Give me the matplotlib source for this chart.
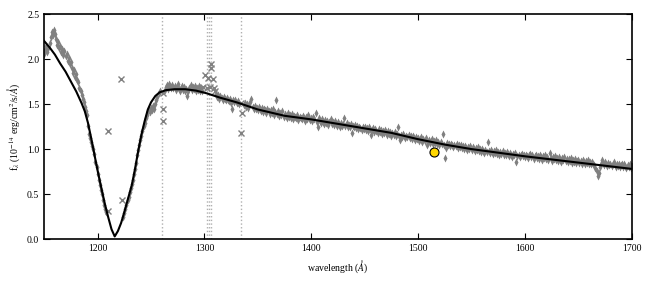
import numpy as np
import matplotlib
matplotlib.use("Agg")
import matplotlib.pyplot as plt

plt.rcParams['font.family'] = ['Liberation Serif', 'DejaVu Serif']
plt.rcParams['mathtext.fontset'] = 'stix'

# observed spectrum, 1 A sampling from 1150 to 1700 (nan = masked / no data)
wave = np.arange(1150, 1701)
flux = [
    2.06, 2.10, 2.14, 2.08, 2.12, 2.18, 2.24, 2.30, 2.27, 2.32,   # 1150
    2.28, 2.22, 2.16, 2.19, 2.12, 2.15, 2.08, 2.11, 2.05, 2.09,   # 1160
    2.03, 2.06, 1.98, 2.01, 1.94, 1.97, 1.90, 1.85, 1.88, 1.80,   # 1170
    1.83, 1.77, 1.74, 1.68, 1.64, 1.60, 1.56, 1.52, 1.47, 1.42,   # 1180
    1.38, 1.26, 1.17, 1.12, 1.08, 1.03, 1.00, 0.95, 0.86, 0.80,   # 1190
    0.72, 0.66, 0.60, 0.55, 0.50, 0.43, 0.38, 0.33, 0.30, np.nan,  # 1200
    np.nan, np.nan, np.nan, np.nan, np.nan, np.nan, np.nan, np.nan, np.nan, np.nan,  # 1210
    np.nan, np.nan, np.nan, np.nan, 0.25, 0.29, 0.33, 0.38, 0.43, 0.47,  # 1220
    0.52, 0.57, 0.61, 0.66, 0.72, 0.78, 0.85, 0.93, 0.99, 1.05,   # 1230
    1.10, 1.14, 1.20, 1.26, 1.29, 1.35, 1.38, 1.42, 1.45, 1.41,   # 1240
    1.46, 1.43, 1.48, 1.44, 1.50, 1.55, 1.58, 1.62, 1.64, np.nan,  # 1250
    np.nan, np.nan, np.nan, 1.66, 1.69, 1.71, 1.67, 1.72, 1.70, 1.68,  # 1260
    1.71, 1.68, 1.70, 1.66, 1.69, 1.72, 1.67, 1.65, 1.68, 1.70,   # 1270
    1.66, 1.69, 1.64, 1.67, 1.59, 1.65, 1.68, 1.71, 1.66, 1.69,   # 1280
    1.67, 1.70, 1.65, 1.68, 1.66, 1.70, 1.64, 1.67, 1.65, np.nan,  # 1290
    np.nan, np.nan, np.nan, np.nan, np.nan, np.nan, np.nan, np.nan, np.nan, np.nan,  # 1300
    np.nan, 1.61, 1.58, 1.60, 1.56, 1.59, 1.57, 1.55, 1.58, 1.56,  # 1310
    1.54, 1.57, 1.55, 1.53, 1.56, 1.51, 1.45, 1.54, 1.52, 1.55,   # 1320
    1.51, 1.53, 1.50, np.nan, np.nan, np.nan, np.nan, 1.49, 1.51, 1.47,  # 1330
    1.50, 1.46, 1.49, 1.52, 1.56, 1.47, 1.45, 1.48, 1.44, 1.46,   # 1340
    1.43, 1.47, 1.44, 1.42, 1.46, 1.41, 1.45, 1.43, 1.40, 1.44,   # 1350
    1.42, 1.39, 1.43, 1.40, 1.44, 1.38, 1.41, 1.54, 1.39, 1.42,   # 1360
    1.37, 1.40, 1.38, 1.42, 1.36, 1.39, 1.37, 1.34, 1.40, 1.36,   # 1370
    1.38, 1.35, 1.39, 1.33, 1.37, 1.36, 1.34, 1.38, 1.32, 1.36,   # 1380
    1.35, 1.33, 1.37, 1.34, 1.31, 1.36, 1.33, 1.38, 1.35, 1.32,   # 1390
    1.34, 1.31, 1.36, 1.33, 1.40, 1.30, 1.25, 1.34, 1.31, 1.29,   # 1400
    1.33, 1.30, 1.28, 1.32, 1.29, 1.31, 1.27, 1.30, 1.33, 1.28,   # 1410
    1.30, 1.27, 1.31, 1.28, 1.26, 1.30, 1.27, 1.25, 1.29, 1.26,   # 1420
    1.28, 1.34, 1.26, 1.29, 1.25, 1.27, 1.24, 1.28, 1.18, 1.26,   # 1430
    1.24, 1.27, 1.23, 1.26, 1.22, 1.25, 1.23, 1.21, 1.25, 1.22,   # 1440
    1.24, 1.21, 1.23, 1.20, 1.24, 1.22, 1.16, 1.21, 1.23, 1.19,   # 1450
    1.22, 1.20, 1.18, 1.22, 1.19, 1.21, 1.17, 1.20, 1.18, 1.21,   # 1460
    1.19, 1.16, 1.20, 1.17, 1.19, 1.15, 1.18, 1.16, 1.19, 1.15,   # 1470
    1.17, 1.25, 1.14, 1.10, 1.16, 1.13, 1.17, 1.14, 1.12, 1.15,   # 1480
    1.13, 1.16, 1.12, 1.14, 1.11, 1.15, 1.12, 1.10, 1.13, 1.11,   # 1490
    1.12, 1.09, 1.11, 1.13, 1.08, 1.11, 1.09, 1.12, 1.05, 1.08,   # 1500
    1.10, 1.07, 1.09, 1.11, 1.06, 1.09, 1.07, 1.10, 1.06, 1.08,   # 1510
    1.05, 1.08, 1.06, 1.17, 1.04, 0.90, 1.01, 1.07, 1.04, 1.06,   # 1520
    1.03, 1.06, 1.04, 1.02, 1.05, 1.03, 1.06, 1.01, 1.04, 1.02,   # 1530
    1.04, 1.01, 1.03, 1.00, 1.03, 1.01, 0.99, 1.02, 1.00, 1.03,   # 1540
    0.99, 1.02, 1.00, 0.98, 1.01, 0.99, 1.02, 0.98, 1.00, 0.97,   # 1550
    1.00, 0.98, 0.96, 0.99, 0.97, 1.08, 0.98, 0.96, 0.99, 0.97,   # 1560
    0.95, 0.98, 0.96, 0.99, 0.95, 0.97, 0.94, 0.97, 0.95, 0.98,   # 1570
    0.94, 0.96, 0.93, 0.97, 0.95, 0.92, 0.96, 0.94, 0.91, 0.95,   # 1580
    0.93, 0.96, 0.86, 0.92, 0.94, 0.91, 0.93, 0.95, 0.92, 0.94,   # 1590
    0.91, 0.94, 0.92, 0.90, 0.93, 0.95, 0.91, 0.93, 0.89, 0.92,   # 1600
    0.94, 0.90, 0.92, 0.89, 0.93, 0.91, 0.88, 0.92, 0.90, 0.93,   # 1610
    0.89, 0.91, 0.88, 0.96, 0.90, 0.87, 0.91, 0.89, 0.92, 0.88,   # 1620
    0.90, 0.87, 0.91, 0.88, 0.86, 0.90, 0.88, 0.91, 0.87, 0.89,   # 1630
    0.86, 0.89, 0.87, 0.90, 0.85, 0.88, 0.86, 0.89, 0.85, 0.87,   # 1640
    0.88, 0.85, 0.87, 0.84, 0.88, 0.86, 0.83, 0.87, 0.85, 0.88,   # 1650
    0.84, 0.86, 0.83, 0.86, 0.84, 0.82, 0.79, 0.76, 0.70, 0.74,   # 1660
    0.80, 0.84, 0.88, 0.85, 0.82, 0.86, 0.83, 0.81, 0.85, 0.82,   # 1670
    0.84, 0.81, 0.83, 0.86, 0.82, 0.80, 0.84, 0.81, 0.83, 0.80,   # 1680
    0.82, 0.84, 0.80, 0.83, 0.81, 0.79, 0.82, 0.80, 0.83, 0.79,   # 1690
    0.81,                                                          # 1700
]

# masked pixels (shown as crosses)
mask_wave = [1209.5, 1210, 1221.5, 1223, 1261, 1261, 1261,
             1299, 1300.5, 1302, 1303.5, 1305, 1306.5, 1306.5, 1308, 1308.5, 1310,
             1334.5, 1335, 1334.5]
mask_flux = [0.31, 1.20, 1.78, 0.44, 1.44, 1.31, 1.62,
             1.69, 1.82, 1.68, 1.79, 1.69, 1.95, 1.90, 1.78, 1.68, 1.65,
             1.51, 1.40, 1.18]

# model fit
model_wave = [1150, 1155, 1160, 1165, 1170, 1175, 1180, 1185, 1188, 1191, 1194,
              1197, 1200, 1204, 1207, 1210, 1213, 1216, 1219, 1222, 1225, 1228,
              1232, 1235, 1238, 1241, 1244, 1247, 1250, 1254, 1258, 1264, 1272,
              1282, 1292, 1302, 1315, 1330, 1350, 1375, 1400, 1425, 1450, 1475,
              1500, 1525, 1550, 1575, 1600, 1625, 1650, 1675, 1700]
model_flux = [2.20, 2.13, 2.05, 1.95, 1.86, 1.75, 1.64, 1.51, 1.42, 1.29, 1.12,
              0.94, 0.76, 0.54, 0.38, 0.24, 0.11, 0.03, 0.09, 0.18, 0.30, 0.43,
              0.60, 0.78, 0.98, 1.16, 1.31, 1.44, 1.52, 1.59, 1.63, 1.655, 1.665,
              1.665, 1.65, 1.62, 1.57, 1.52, 1.44, 1.37, 1.33, 1.28, 1.23, 1.18,
              1.11, 1.05, 1.00, 0.96, 0.92, 0.885, 0.85, 0.815, 0.78]

# ISM absorption lines
ism_lines = [1260.42, 1302.17, 1304.37, 1306.03, 1334.53]

# photometric point
phot_wave = [1515]
phot_flux = [0.97]

fig = plt.figure(figsize=(6.5, 2.81), dpi=100)
ax = fig.add_axes([0.068, 0.149, 0.904, 0.801])

for l in ism_lines:
    ax.axvline(l, color='#b0b0b0', ls=':', lw=1, zorder=1)

ax.plot(wave, flux, 'd', color='#808080', ms=4, mec='none', zorder=2)
ax.plot(mask_wave, mask_flux, 'x', color='#808080', ms=4, mew=1, zorder=2)
ax.plot(model_wave, model_flux, 'k-', lw=1.5, zorder=3)
ax.plot(phot_wave, phot_flux, 'o', color='#FFD700', mec='k', mew=0.8, ms=6.5, zorder=4)

ax.set_xlim(1150, 1700)
ax.set_ylim(0, 2.5)
ax.set_xticks([1200, 1300, 1400, 1500, 1600, 1700])
ax.set_yticks([0.0, 0.5, 1.0, 1.5, 2.0, 2.5])
ax.yaxis.set_major_formatter(matplotlib.ticker.FormatStrFormatter('%.1f'))
ax.tick_params(direction='in', top=True, right=True, length=4, width=0.8, labelsize=7)
for s in ax.spines.values():
    s.set_linewidth(1.2)

ax.set_xlabel(r'wavelength ($\AA$)', fontsize=7)
ax.set_ylabel(r'f$_\lambda$ (10$^{-14}$ erg/cm$^2$/s/$\AA$)', fontsize=7)

fig.savefig('out.png', dpi=100)
